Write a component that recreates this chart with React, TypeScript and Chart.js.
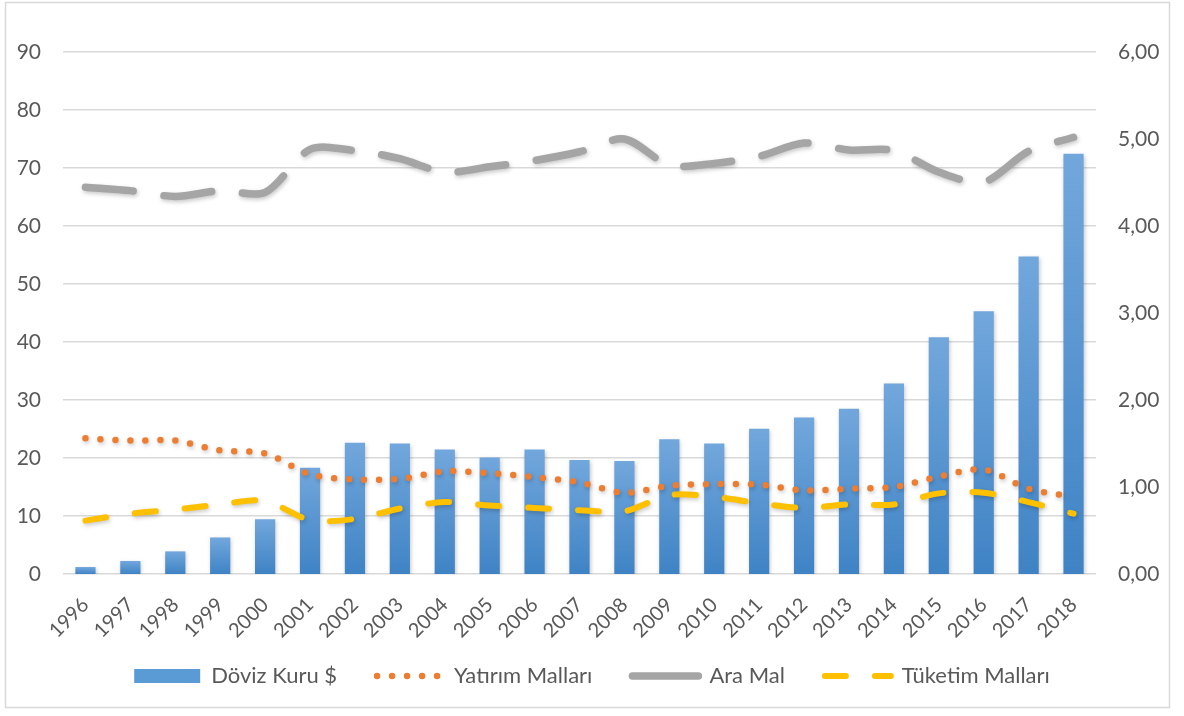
import React, { useEffect, useRef } from 'react';
import { Chart, registerables } from 'chart.js';

Chart.register(...registerables);

const years = ['1996', '1997', '1998', '1999', '2000', '2001', '2002', '2003', '2004', '2005', '2006', '2007', '2008', '2009', '2010', '2011', '2012', '2013', '2014', '2015', '2016', '2017', '2018'];

const dovizKuru = [0.08, 0.15, 0.26, 0.42, 0.63, 1.22, 1.51, 1.50, 1.43, 1.34, 1.43, 1.31, 1.30, 1.55, 1.50, 1.67, 1.80, 1.90, 2.19, 2.72, 3.02, 3.65, 4.83];
const yatirimMallari = [23.4, 23.0, 23.0, 21.3, 20.8, 17.2, 16.3, 16.4, 17.7, 17.4, 16.7, 15.8, 14.0, 15.2, 15.5, 15.4, 14.4, 14.7, 15.0, 16.8, 18.0, 14.7, 13.3];
const araMal = [66.7, 66.1, 65.1, 66.1, 65.8, 73.2, 73.0, 71.6, 69.3, 70.2, 71.3, 72.8, 75.0, 70.5, 70.8, 72.0, 74.3, 73.1, 73.0, 69.3, 67.6, 72.9, 75.3];
const tuketimMallari = [9.2, 10.4, 11.1, 12.0, 12.6, 9.3, 9.5, 11.3, 12.4, 11.8, 11.4, 11.0, 10.8, 13.6, 13.3, 12.2, 11.4, 12.0, 12.0, 13.9, 14.0, 12.4, 10.4];

const leftTicks = { min: 0, max: 90, step: 10 };
const rightTicks = { min: 0, max: 6, step: 1 };

const FONT = 'Lato, "Open Sans", sans-serif';
const TEXT = '#595959';
const GRID = '#d9d9d9';

export default function App() {
  const ref = useRef<HTMLCanvasElement>(null);

  useEffect(() => {
    let chart: Chart | null = null;
    let cancelled = false;

    const framePlugin = {
      id: 'frame',
      beforeDraw(c: any) {
        const { ctx, width, height } = c;
        ctx.save();
        ctx.fillStyle = '#ffffff';
        ctx.fillRect(0, 0, width, height);
        ctx.strokeStyle = GRID;
        ctx.lineWidth = 1.5;
        ctx.strokeRect(5.5, 2.5, width - 20, height - 11);
        ctx.restore();
      },
    };

    const shadowPlugin = {
      id: 'softShadow',
      beforeDatasetDraw(c: any) {
        const ctx = c.ctx;
        ctx.save();
        ctx.shadowColor = 'rgba(0,0,0,0.22)';
        ctx.shadowBlur = 4;
        ctx.shadowOffsetX = 1;
        ctx.shadowOffsetY = 2;
      },
      afterDatasetDraw(c: any) {
        c.ctx.restore();
      },
    };

    // move the legend up a little, into the space below the rotated year labels
    const legendShift = {
      id: 'legendShift',
      afterLayout(c: any) {
        const lg = c.legend;
        if (lg) {
          lg.top -= 19;
          lg.bottom -= 19;
        }
      },
    };

    const build = () => {
      if (cancelled || !ref.current) return;
      chart = new Chart(ref.current, {
        type: 'bar',
        data: {
          labels: years,
          datasets: [
            {
              type: 'bar',
              label: 'Döviz Kuru $',
              data: dovizKuru,
              yAxisID: 'y2',
              order: 1,
              barPercentage: 0.45,
              categoryPercentage: 1,
              backgroundColor: (c: any) => {
                const ch = c.chart;
                if (!ch.chartArea || c.type !== 'data') return '#5b9bd5';
                const s = ch.scales.y2;
                const top = s.getPixelForValue(c.raw);
                const bottom = s.getPixelForValue(0);
                if (!isFinite(top) || !isFinite(bottom) || bottom - top < 1) return '#5b9bd5';
                const g = ch.ctx.createLinearGradient(0, top, 0, bottom);
                g.addColorStop(0, '#72a7dc');
                g.addColorStop(1, '#3f83c5');
                return g;
              },
            } as any,
            {
              type: 'line',
              label: 'Yatırım Malları',
              data: yatirimMallari,
              yAxisID: 'y',
              order: 0,
              borderColor: '#ed7d31',
              borderWidth: 6.5,
              borderDash: [0, 15],
              borderCapStyle: 'round',
              pointRadius: 0,
              tension: 0.3,
              fill: false,
            } as any,
            {
              type: 'line',
              label: 'Ara Mal',
              data: araMal,
              yAxisID: 'y',
              order: 0,
              borderColor: '#a5a5a5',
              borderWidth: 7.5,
              borderDash: [48, 31],
              borderCapStyle: 'round',
              pointRadius: 0,
              tension: 0.3,
              fill: false,
            } as any,
            {
              type: 'line',
              label: 'Tüketim Malları',
              data: tuketimMallari,
              yAxisID: 'y',
              order: 0,
              borderColor: '#ffc000',
              borderWidth: 6,
              borderDash: [21, 29],
              borderCapStyle: 'round',
              pointRadius: 0,
              tension: 0.3,
              fill: false,
            } as any,
          ],
        },
        options: {
          responsive: true,
          maintainAspectRatio: false,
          animation: false,
          layout: { padding: { top: 52, bottom: 0, left: 0, right: 0 } },
          plugins: {
            tooltip: { enabled: false },
            legend: {
              position: 'bottom',
              labels: {
                usePointStyle: true,
                pointStyleWidth: 66,
                boxHeight: 14,
                padding: 40,
                color: TEXT,
                font: { family: FONT, size: 22 },
                generateLabels: (c: any) =>
                  c.data.datasets.map((ds: any, i: number) => ({
                    text: ds.label,
                    datasetIndex: i,
                    hidden: false,
                    fillStyle: i === 0 ? '#5b9bd5' : 'rgba(0,0,0,0)',
                    strokeStyle: i === 0 ? '#5b9bd5' : ds.borderColor,
                    lineWidth: i === 0 ? 0 : ds.borderWidth,
                    lineDash: i === 0 || i === 2 ? [] : ds.borderDash,
                    lineCap: i === 0 ? 'butt' : 'round',
                    pointStyle: i === 0 ? 'rect' : 'line',
                    fontColor: TEXT,
                  })),
              },
            },
          },
          scales: {
            x: {
              offset: true,
              grid: { display: false, drawTicks: false },
              border: { display: false },
              ticks: {
                color: TEXT,
                font: { family: FONT, size: 20 },
                maxRotation: 45,
                minRotation: 45,
                padding: 19,
                autoSkip: false,
              },
              afterFit: (s: any) => {
                s.height = 70;
              },
            },
            y: {
              position: 'left',
              min: leftTicks.min,
              max: leftTicks.max,
              grid: { color: GRID, lineWidth: 1.5, drawTicks: false },
              border: { display: false },
              ticks: {
                stepSize: leftTicks.step,
                color: TEXT,
                font: { family: FONT, size: 21 },
                padding: 22,
              },
              afterFit: (s: any) => {
                s.width = 63;
              },
            },
            y2: {
              position: 'right',
              min: rightTicks.min,
              max: rightTicks.max,
              grid: { display: false, drawTicks: false },
              border: { display: false },
              ticks: {
                stepSize: rightTicks.step,
                color: TEXT,
                font: { family: FONT, size: 21 },
                padding: 22,
                callback: (v: any) => Number(v).toFixed(2).replace('.', ','),
              },
              afterFit: (s: any) => {
                s.width = 88;
              },
            },
          },
        },
        plugins: [framePlugin, shadowPlugin, legendShift],
      });
    };

    const fonts: any = (document as any).fonts;
    if (fonts && fonts.load) {
      Promise.all([fonts.load('22px Lato'), fonts.load('20px Lato')])
        .catch(() => null)
        .then(() => build());
    } else {
      build();
    }

    return () => {
      cancelled = true;
      if (chart) chart.destroy();
    };
  }, []);

  return (
    <div style={{ position: 'fixed', left: 0, top: 0, width: 1184, height: 716, background: '#fff' }}>
      <canvas ref={ref} />
    </div>
  );
}
